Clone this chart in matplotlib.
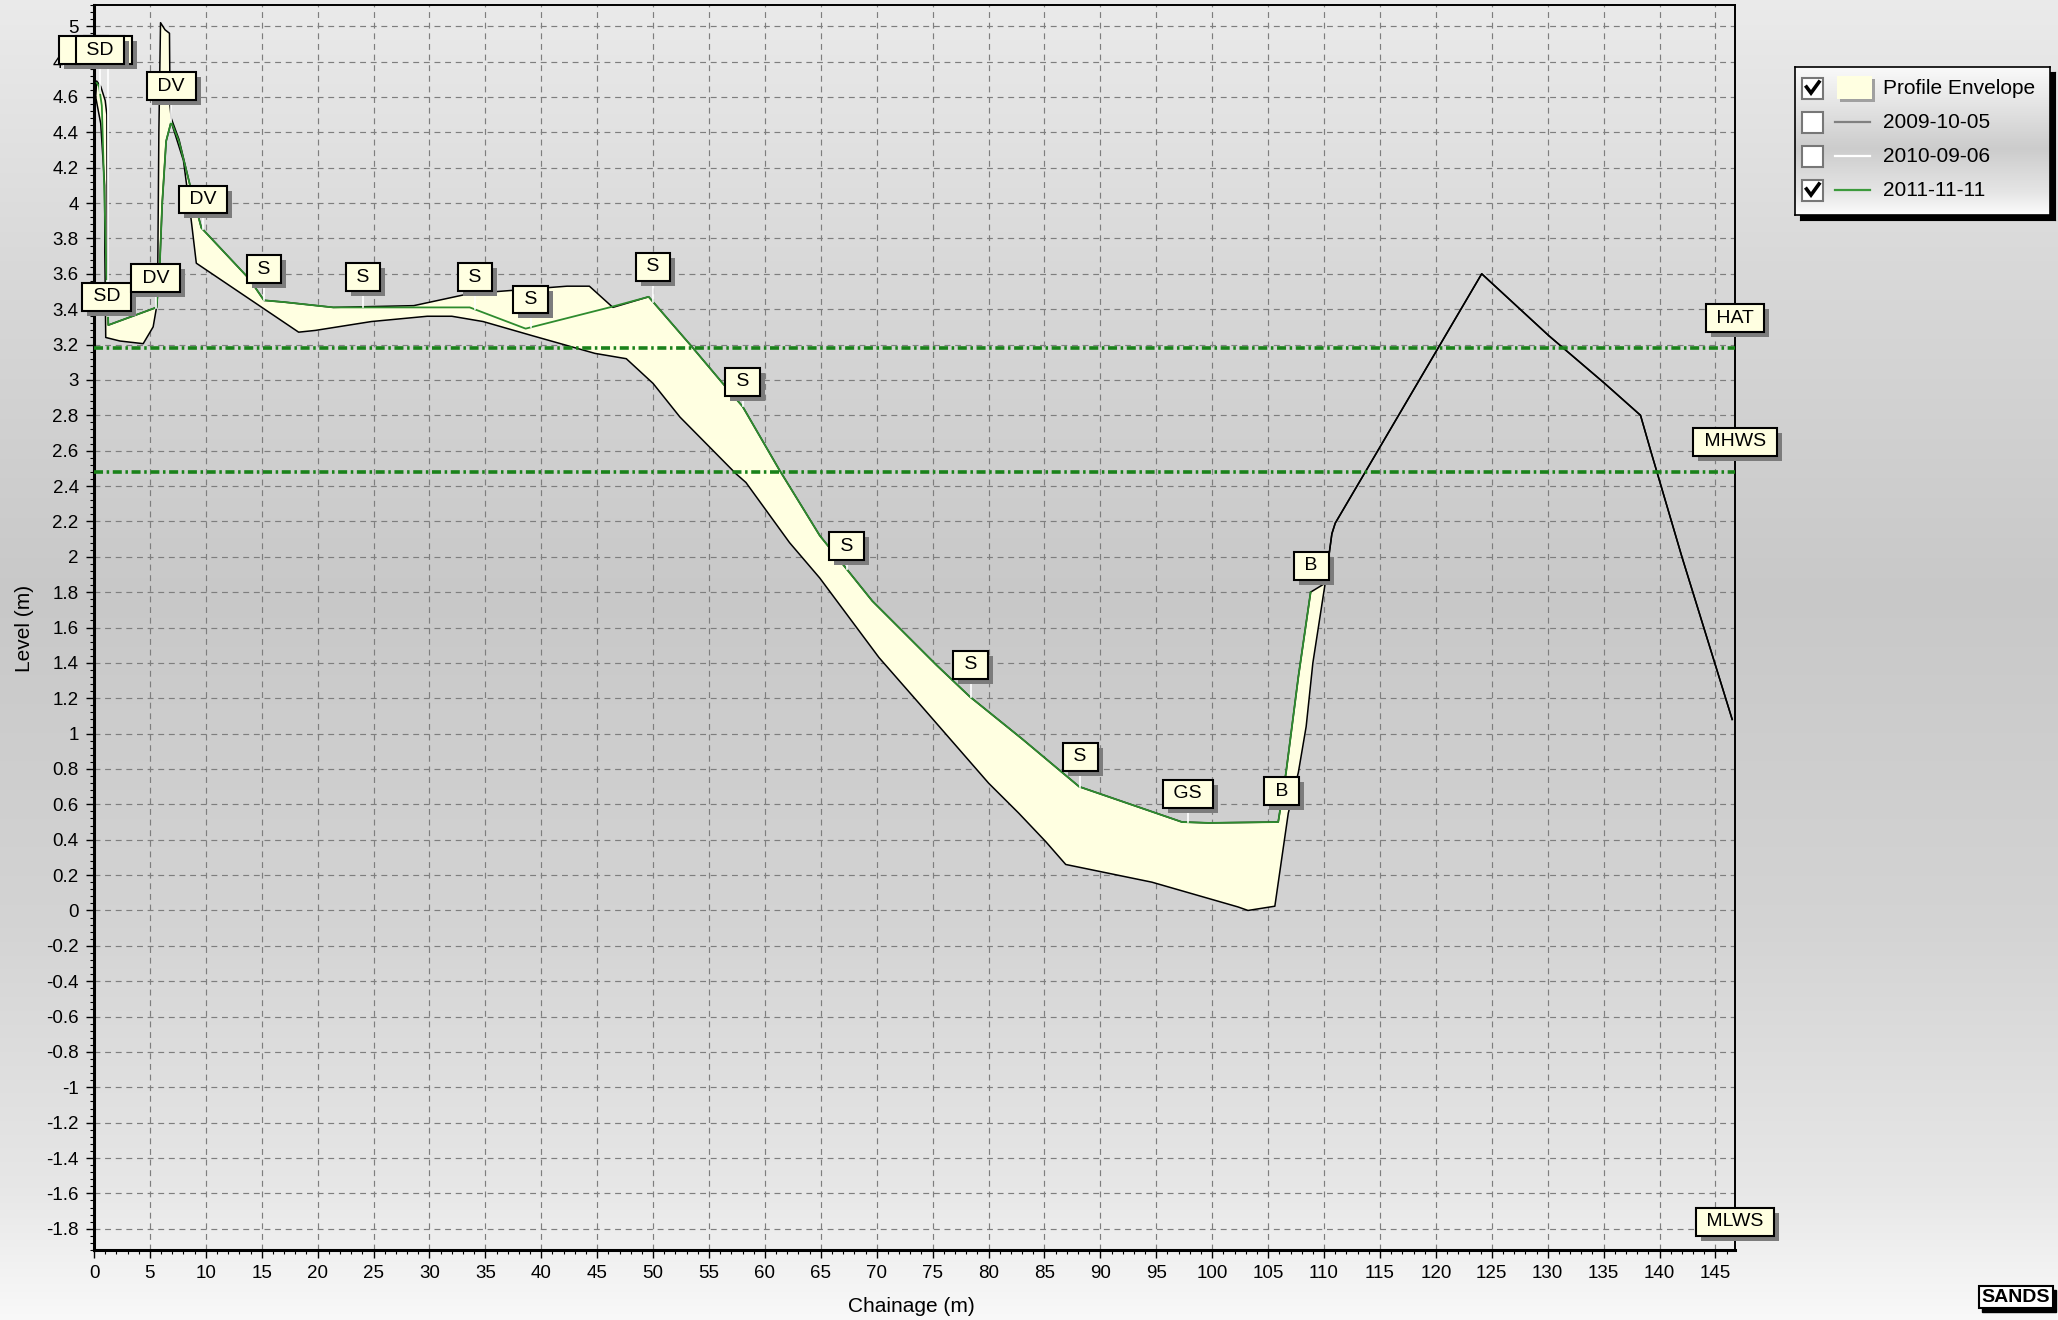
import numpy as np
import matplotlib
matplotlib.use('Agg')
import matplotlib.pyplot as plt
from matplotlib.patches import Rectangle
from matplotlib.ticker import AutoMinorLocator, FuncFormatter

plt.rcParams['font.family'] = ['Liberation Sans', 'DejaVu Sans']
plt.rcParams['axes.unicode_minus'] = False

# profile envelope (max / min of all surveys)
top_x = [0.15, 0.24, 0.6, 1.0, 1.15, 1.2, 1.28, 5.59, 5.7, 5.8, 5.95, 6.35, 6.75, 6.8, 6.9,
         7.6, 8.55, 9.6, 13.9, 15.2, 17.0, 21.4, 28.6, 33.0, 36.1, 42.3, 44.3, 46.4,
         49.6, 53.3, 56.5, 58.0, 61.3, 64.9, 69.6, 75.3, 78.3, 83.0, 88.1, 97.3, 99.7,
         105.9, 106.6, 107.7, 108.8, 110.1, 110.7, 111.0, 124.1, 126.5, 130.1, 135.1,
         138.3, 139.3, 142.0, 146.5]
top_y = [4.60, 4.69, 4.66, 4.58, 4.50, 3.50, 3.31, 3.41, 3.60, 4.40, 5.02, 4.98, 4.96, 4.55, 4.48,
         4.36, 4.11, 3.86, 3.57, 3.45, 3.44, 3.41, 3.42, 3.48, 3.50, 3.53, 3.53, 3.41,
         3.47, 3.20, 2.96, 2.85, 2.49, 2.12, 1.75, 1.39, 1.21, 0.97, 0.70, 0.50, 0.495,
         0.50, 0.78, 1.32, 1.80, 1.85, 2.13, 2.19, 3.60, 3.46, 3.25, 2.98,
         2.80, 2.58, 2.00, 1.08]
bot_x = [0.15, 0.6, 0.95, 0.97, 1.05, 2.32, 4.4, 5.29, 5.59, 5.85, 6.1, 6.45, 6.9, 8.0, 8.7,
         9.15, 18.3, 19.8, 24.8, 29.8, 32.0, 34.8, 39.2, 44.8, 47.6, 50.0, 52.4, 57.4,
         58.3, 62.2, 64.9, 70.2, 73.8, 80.0, 82.7, 85.1, 86.9, 94.6, 102.3, 103.2, 105.6,
         106.8, 107.7, 108.4, 109.0, 110.1, 110.7, 111.0, 124.1, 126.5, 130.1, 135.1,
         138.3, 139.3, 142.0, 146.5]
bot_y = [4.60, 4.45, 4.10, 3.72, 3.24, 3.22, 3.205, 3.30, 3.41, 3.60, 4.00, 4.35, 4.46, 4.24, 3.90,
         3.66, 3.27, 3.28, 3.33, 3.36, 3.36, 3.33, 3.25, 3.15, 3.12, 2.98, 2.79, 2.47,
         2.42, 2.08, 1.88, 1.43, 1.17, 0.72, 0.55, 0.39, 0.26, 0.16, 0.02, 0.0, 0.024,
         0.55, 0.78, 1.04, 1.40, 1.85, 2.13, 2.19, 3.60, 3.46, 3.25, 2.98,
         2.80, 2.58, 2.00, 1.08]

# 2011-11-11 survey
g_x = [0.24, 0.45, 0.7, 0.95, 1.13, 1.28, 5.59, 5.85, 6.1, 6.45, 6.9, 7.6, 8.55, 9.6, 13.9,
       15.2, 17.0, 21.4, 33.6, 38.6, 46.1, 49.6, 53.3, 56.5, 58.0, 61.3, 64.9, 69.6,
       75.3, 78.3, 83.0, 88.1, 97.3, 99.7, 105.9, 106.6, 107.7, 108.8]
g_y = [4.68, 4.66, 4.55, 4.00, 3.56, 3.31, 3.41, 3.60, 4.00, 4.35, 4.46, 4.35, 4.11, 3.86, 3.57,
       3.45, 3.44, 3.41, 3.41, 3.29, 3.41, 3.47, 3.20, 2.96, 2.85, 2.49, 2.12, 1.75,
       1.39, 1.21, 0.97, 0.70, 0.50, 0.495, 0.50, 0.78, 1.32, 1.80]

# feature codes along the profile (first two are stacked underneath the third)
tag_codes = ['SD', 'SD', 'SD', 'SD', 'DV', 'DV', 'DV', 'S', 'S', 'S', 'S', 'S', 'S', 'S',
             'S', 'S', 'GS', 'B', 'B']
tag_x = [-0.95, 1.25, 0.54, 1.13, 5.5, 6.92, 9.74, 15.2, 24.06, 34.06, 39.06, 50.0, 58.0,
         67.3, 78.4, 88.2, 97.8, 106.2, 108.86]
tag_y = [4.865, 4.865, 4.865, 3.47, 3.575, 4.66, 4.02, 3.625, 3.58, 3.58, 3.455, 3.64, 2.99,
         2.06, 1.39, 0.87, 0.66, 0.675, 1.95]
tag_hidden = [True, True] + [False] * 17

# tide levels
tide_names = ['HAT', 'MHWS', 'MLWS']
tide_levels = [3.18, 2.48, -1.93]

leg_labels = ['Profile Envelope', '2009-10-05', '2010-09-06', '2011-11-11']
leg_checked = [True, False, False, True]
leg_colors = ['#ffffe1', '#808080', '#ffffff', '#3c9a3c']

W, H = 2058, 1320
fig = plt.figure(figsize=(W / 100, H / 100), dpi=100)


def ramp(stops, vals, n=400):
    g = np.interp(np.linspace(0, 1, n), stops, vals)
    return np.repeat(g[:, None, None], 3, axis=2)


bg = fig.add_axes([0, 0, 1, 1], zorder=-5)
bg.imshow(ramp([0, 0.2, 0.45, 0.7, 0.9, 1], [0.92, 0.85, 0.785, 0.83, 0.905, 0.975]),
          aspect='auto', extent=[0, 1, 0, 1], interpolation='bilinear')
bg.set_axis_off()

ax = fig.add_axes([94 / W, 1 - 1250 / H, (1735 - 94) / W, (1250 - 5) / H])
ax.patch.set_visible(False)
ax.set_xlim(0, 146.75)
ax.set_ylim(-1.92, 5.12)

ax.set_xticks(np.arange(0, 146, 5))
ax.set_yticks(np.round(np.arange(-1.8, 5.01, 0.2), 1))
ax.xaxis.set_minor_locator(AutoMinorLocator(5))
ax.yaxis.set_minor_locator(AutoMinorLocator(5))
ax.yaxis.set_major_formatter(FuncFormatter(lambda v, p: f'{round(v, 1) + 0.0:g}'))
ax.tick_params(which='major', direction='out', length=6, width=1, labelsize=13.5, pad=5)
ax.tick_params(which='minor', direction='out', length=3, width=0.8)
ax.grid(True, which='major', color='#7e7e7e', linestyle=(0, (5, 4)), linewidth=0.85)
ax.set_axisbelow(True)
for side, lw in [('left', 2.2), ('bottom', 2.2), ('top', 1.4), ('right', 1.4)]:
    ax.spines[side].set_linewidth(lw)

# envelope
ax.fill(np.r_[top_x, bot_x[::-1]], np.r_[top_y, bot_y[::-1]], color='#ffffe1', lw=0, zorder=2)
ax.plot(top_x, top_y, color='black', lw=1.1, zorder=3)
ax.plot(bot_x, bot_y, color='black', lw=1.1, zorder=3)

for lvl in tide_levels:
    ax.axhline(lvl, color='#1a821a', lw=2.6, dashes=(2.5, 1, 0.7, 1), zorder=3.5)

ax.plot(g_x, g_y, color='#2e8b2e', lw=1.3, zorder=4)


def tag(x, y, s, coords='data', dy=0, zo=6, hidden=False):
    txt = '#ffffe1' if hidden else 'black'
    for dx_, dy_, fc, ec, tc, z in [(5, dy - 5, '#7c7c7c', 'none', '#7c7c7c', zo),
                                    (0, dy, '#ffffe1', 'black', txt, zo + 0.05)]:
        ax.annotate(f' {s} ', (x, y), xycoords=coords, xytext=(dx_, dy_),
                    textcoords='offset pixels', ha='center', va='center', fontsize=14,
                    color=tc, zorder=z, annotation_clip=False,
                    bbox=dict(boxstyle='square,pad=0.28', fc=fc, ec=ec, lw=1.5))


# white stems from label down to the surveyed point
for x, y in zip(tag_x, tag_y):
    if 0 < x < g_x[-1]:
        ax.plot([x, x], [np.interp(x, g_x, g_y), y], color='white', lw=1.2, zorder=4.5)

for i, (s, x, y, hid) in enumerate(zip(tag_codes, tag_x, tag_y, tag_hidden)):
    tag(x, y, s, zo=6 + i * 0.1, hidden=hid)

for i, (s, lvl) in enumerate(zip(tide_names, tide_levels)):
    tag(1.0, lvl, s, coords=('axes fraction', 'data'), dy=30, zo=9 + i * 0.1)

fig.text(911 / W, 1 - 1306 / H, 'Chainage (m)', ha='center', va='center', fontsize=15)
fig.text(24 / W, 1 - 628 / H, 'Level (m)', ha='center', va='center', fontsize=15, rotation=90)

# legend panel
lx, ly, lw_, lh = 1795, 67, 255, 148
sh = fig.add_axes([(lx + 5) / W, 1 - (ly + lh + 5) / H, lw_ / W, lh / H])
sh.set_facecolor('black')
sh.set_xticks([])
sh.set_yticks([])
lg = fig.add_axes([lx / W, 1 - (ly + lh) / H, lw_ / W, lh / H])
lg.imshow(ramp([0, 0.15, 0.55, 0.85, 1], [0.98, 0.93, 0.8, 0.9, 0.99]),
          aspect='auto', extent=[0, lw_, lh, 0], interpolation='bilinear')
lg.set_xlim(0, lw_)
lg.set_ylim(lh, 0)
lg.set_xticks([])
lg.set_yticks([])
for sp in lg.spines.values():
    sp.set_linewidth(1.2)

for i, (lab, chk, col) in enumerate(zip(leg_labels, leg_checked, leg_colors)):
    yc = 21 + i * 34
    lg.add_patch(Rectangle((7, yc - 10.5), 21, 21, fc='white', ec='#777777', lw=1.5))
    if chk:
        lg.plot([11.5, 16, 24], [yc - 1, yc + 5, yc - 6], color='black', lw=2.6,
                solid_joinstyle='miter')
    if i == 0:
        lg.add_patch(Rectangle((45, yc - 9), 35, 23, fc='#a0a0a0', ec='none'))
        lg.add_patch(Rectangle((42, yc - 12), 35, 23, fc=col, ec='none'))
    else:
        lg.plot([40, 75], [yc, yc], color=col, lw=1.6)
    lg.text(88, yc, lab, va='center', ha='left', fontsize=15)

# logo
fig.text(2019 / W, 1 - 1301 / H, 'SANDS', ha='center', va='center', fontsize=14,
         weight='bold', color='black', zorder=5,
         bbox=dict(boxstyle='square,pad=0.15', fc='black', ec='black'))
fig.text(2016 / W, 1 - 1297 / H, 'SANDS', ha='center', va='center', fontsize=14,
         weight='bold', color='black', zorder=6,
         bbox=dict(boxstyle='square,pad=0.15', fc='white', ec='black', lw=1.5))

fig.savefig('out.png', dpi=100)
